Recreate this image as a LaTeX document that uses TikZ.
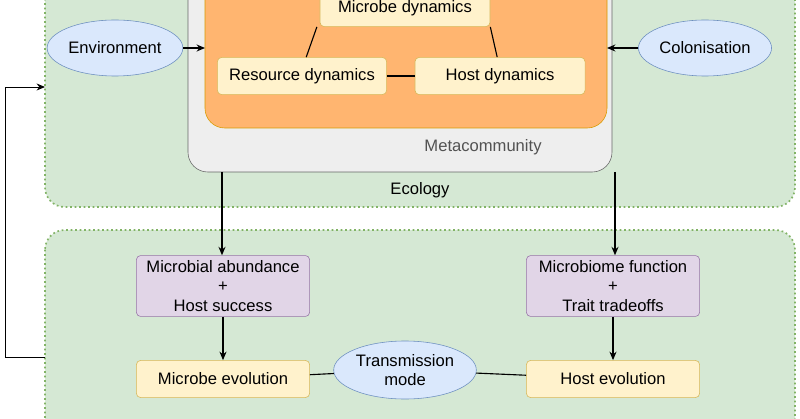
\documentclass[tikz,border=0pt]{standalone}
\usepackage{fontspec}
\setmainfont{Liberation Sans}
\usetikzlibrary{arrows.meta}
\usetikzlibrary{shapes.geometric}
\usetikzlibrary{positioning}
\definecolor{panelfill}{HTML}{D5E8D4}
\definecolor{panelline}{HTML}{82B366}
\definecolor{greyfill}{HTML}{EEEEEE}
\definecolor{greyline}{HTML}{666666}
\definecolor{orfill}{HTML}{FFB570}
\definecolor{orline}{HTML}{D79B00}
\definecolor{yelfill}{HTML}{FFF2CC}
\definecolor{yelline}{HTML}{D6B656}
\definecolor{blufill}{HTML}{DAE8FC}
\definecolor{bluline}{HTML}{6C8EBF}
\definecolor{purfill}{HTML}{E1D5E7}
\definecolor{purline}{HTML}{9673A6}

\begin{document}
\begin{tikzpicture}[x=0.025cm,y=-0.025cm,
  font=\fontsize{11.8}{14}\selectfont,
  panel/.style={fill=panelfill,draw=panelline,line width=1.2pt,dotted,rounded corners=14pt},
  yelbox/.style={draw=yelline,fill=yelfill,rounded corners=3pt,minimum height=0.93cm,align=center},
  purbox/.style={draw=purline,fill=purfill,rounded corners=3pt,minimum width=4.33cm,minimum height=1.43cm,align=center},
  oval/.style={ellipse,draw=bluline,fill=blufill,minimum width=2.75cm,minimum height=1.4cm,inner sep=1pt,align=center},
  pil/.style={-{Stealth[length=6pt,width=5pt]},thick},
  link/.style={thick}
  ]
\useasboundingbox (0,0) rectangle (800,419);
% panels
\draw[panel] (45,-30) rectangle (795,207);
\draw[panel] (45,230) rectangle (795,450);
\node at (420,190) {Ecology};
% metacommunity
\draw[draw=greyline,fill=greyfill,rounded corners=14pt] (188,-30) rectangle (612,172);
\node[text=greyline!80!black] at (483,147) {Metacommunity};
\draw[draw=orline,fill=orfill,rounded corners=14pt] (205,-30) rectangle (607,128);
\coordinate (orW) at (205,48);
\coordinate (orE) at (607,48);
\coordinate (mcL) at (222,172);
\coordinate (mcR) at (615,172);
% dynamics
\node[yelbox,minimum width=4.25cm] (micdyn) at (405,8) {Microbe dynamics};
\node[yelbox,minimum width=4.23cm] (resdyn) at (302,76) {Resource dynamics};
\node[yelbox,minimum width=4.25cm] (hostdyn) at (500,76) {Host dynamics};
\draw[link] ([xshift=-2pt]micdyn.south west) -- ([xshift=3pt]resdyn.north);
\draw[link] (micdyn.south east) -- ([xshift=-2pt]hostdyn.north);
\draw[link] (resdyn) -- (hostdyn);
% drivers
\node[oval] (env) at (115,48) {Environment};
\node[oval] (col) at (705,48) {Colonisation};
\draw[pil] (env) -- (orW);
\draw[pil] (col) -- (orE);
% evolution
\node[purbox] (abund) at (223,286) {Microbial abundance\\+\\Host success};
\node[purbox] (func) at (613,286) {Microbiome function\\+\\Trait tradeoffs};
\node[yelbox,minimum width=4.33cm] (micevo) at (223,379) {Microbe evolution};
\node[yelbox,minimum width=4.33cm] (hostevo) at (613,379) {Host evolution};
\node[oval,minimum width=2.5cm,minimum height=1.45cm] (trans) at (405,370) {Transmission\\mode};
\draw[pil] (mcL) -- (mcL |- abund.north);
\draw[pil] (mcR) -- (mcR |- func.north);
\draw[pil] (abund) -- (micevo);
\draw[pil] (func) -- (hostevo);
\draw[link] (micevo) -- (trans);
\draw[link] (trans) -- (hostevo);
% feedback
\coordinate (fbS) at (45,357);
\coordinate (fbE) at (45,87);
\draw[pil,semithick] (fbS) -- (5,357) -- (5,87) -- (fbE);
\end{tikzpicture}
\end{document}
